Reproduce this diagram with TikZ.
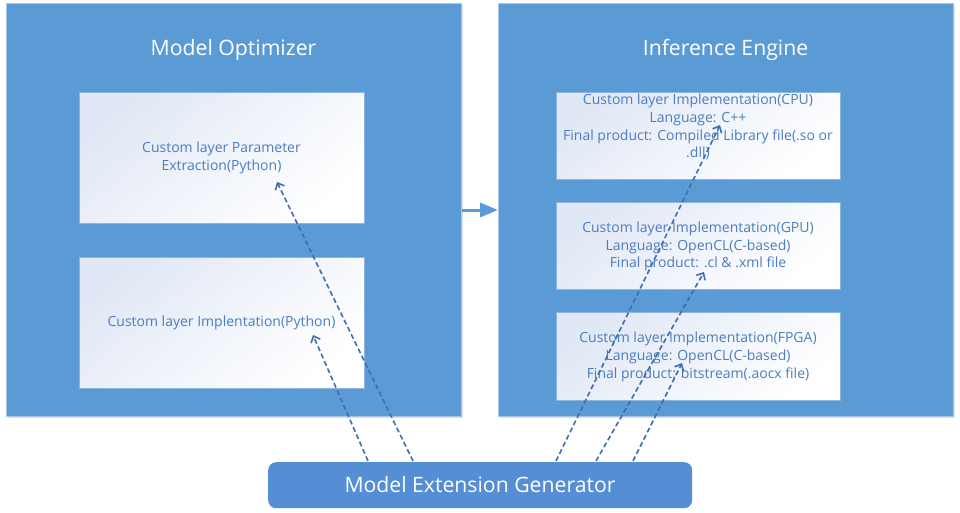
\documentclass[tikz,border=0pt]{standalone}
\usepackage{fontspec}
\setmainfont{Open Sans}
\usetikzlibrary{arrows.meta,shadows}
\definecolor{bigblue}{HTML}{5B9BD5}
\definecolor{bigedge}{HTML}{A9C5E6}
\definecolor{genblue}{HTML}{558ED5}
\definecolor{txtblue}{HTML}{4A7EBF}
\definecolor{dashblue}{HTML}{3F6DB3}
\definecolor{innertop}{HTML}{E1E8F5}
\definecolor{inneredge}{HTML}{8FB4E0}
\tikzset{
  bigbox/.style={draw=bigedge, line width=0.8pt, fill=bigblue,
    drop shadow={opacity=0.25, shadow xshift=2pt, shadow yshift=-2pt}},
  innerbox/.style={draw=inneredge, line width=0.8pt, top color=innertop, bottom color=white, shading angle=40},
  innertext/.style={text=txtblue, font=\fontsize{14}{17.8}\selectfont, align=center},
  titletext/.style={text=white, font=\fontsize{21.2}{25}\selectfont},
  genbox/.style={fill=genblue, rounded corners=8pt, draw=none},
  dasharrow/.style={draw=dashblue, line width=1.6pt, dash pattern=on 5pt off 3pt,
    -{Straight Barb[length=5.5pt,width=10pt,line width=1.6pt]}},
}
\begin{document}
\begin{tikzpicture}[x=1pt,y=-1pt]
\useasboundingbox (0,0) rectangle (960,513);
% big containers
\node[bigbox, minimum width=455pt, minimum height=413pt, inner sep=0pt, anchor=north west] (mo) at (6,3) {};
\node[bigbox, minimum width=455pt, minimum height=413pt, inner sep=0pt, anchor=north west] (ie) at (498,3) {};
\node[titletext] (motitle) at (233.5,50) {Model Optimizer};
\node[titletext] (ietitle) at (725.5,50) {Inference Engine};
% left inner boxes
\node[innerbox, minimum width=285pt, minimum height=131pt, inner sep=0pt, anchor=north west] (pe) at (79,92) {};
\node[innertext] (petext) at (221.5,157.5) {Custom layer Parameter\\Extraction(Python)};
\node[innerbox, minimum width=285pt, minimum height=131pt, inner sep=0pt, anchor=north west] (pi) at (79,257) {};
\node[innertext] (pitext) at (221.5,323) {Custom layer Implentation(Python)};
% right inner boxes
\node[innerbox, minimum width=284pt, minimum height=87pt, inner sep=0pt, anchor=north west] (cpu) at (556,92) {};
\node[innertext] (cputext) at (698,127) {Custom layer Implementation(CPU)\\Language: C++\\Final product: Compiled Library file(.so or\\.dll)};
\node[innerbox, minimum width=284pt, minimum height=87pt, inner sep=0pt, anchor=north west] (gpu) at (556,202) {};
\node[innertext] (gputext) at (698,246.5) {Custom layer Implementation(GPU)\\Language: OpenCL(C-based)\\Final product: .cl \& .xml file};
\node[innerbox, minimum width=284pt, minimum height=88pt, inner sep=0pt, anchor=north west] (fpga) at (556,312) {};
\node[innertext] (fpgatext) at (698,357) {Custom layer Implementation(FPGA)\\Language: OpenCL(C-based)\\Final product: bitstream(.aocx file)};
% link between containers
\draw[bigblue, line width=3pt, -{Triangle[length=18pt,width=14pt]}] (mo.east |- 0,210) -- (ie.west |- 0,210);
% generator
\node[genbox, minimum width=424pt, minimum height=46pt, inner sep=0pt, anchor=north west] (gen) at (268,462) {};
\node[titletext] (gentext) at (480,485) {Model Extension Generator};
% dashed arrows
\coordinate (s1) at (413,461);
\coordinate (s2) at (368,461);
\coordinate (s3) at (556,461);
\coordinate (s4) at (596,461);
\coordinate (s5) at (633,461);
\coordinate (e1) at (277,182);
\coordinate (e2) at (313,335);
\coordinate (e3) at (720,125);
\coordinate (e4) at (704,272);
\coordinate (e5) at (682,363);
\draw[dasharrow] (s1) -- (e1);
\draw[dasharrow] (s2) -- (e2);
\draw[dasharrow] (s3) -- (e3);
\draw[dasharrow] (s4) -- (e4);
\draw[dasharrow] (s5) -- (e5);
\end{tikzpicture}
\end{document}
